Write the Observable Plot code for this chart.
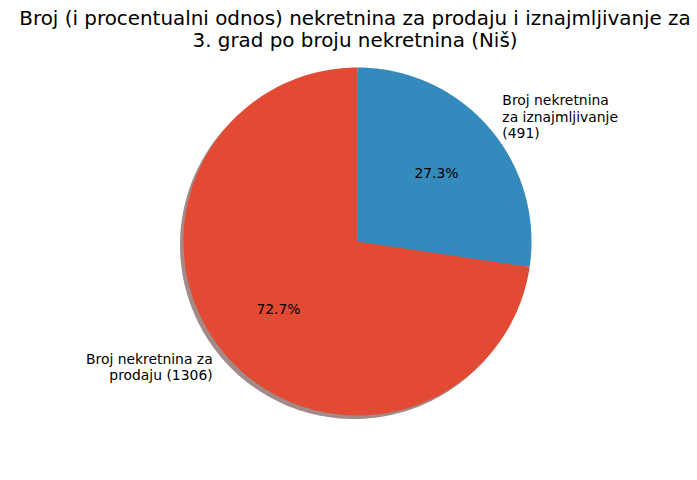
<!DOCTYPE html>
<html>
<head>
<meta charset="utf-8">
<script src="https://cdn.jsdelivr.net/npm/d3@7"></script>
<script src="https://cdn.jsdelivr.net/npm/@observablehq/plot@0.6"></script>
<style>
  html, body { margin: 0; padding: 0; background: #fff; }
  #wrap { position: relative; width: 697px; height: 480px; overflow: hidden; }
  #title {
    position: absolute; top: 8px; left: 355px; transform: translateX(-50%);
    white-space: pre; text-align: center;
    font-family: "DejaVu Sans", sans-serif; font-size: 19.9px; line-height: 22.3px; color: #000;
  }
  #chart { position: absolute; top: 60px; left: 0; }
</style>
</head>
<body>
<div id="wrap">
  <div id="title"></div>
  <div id="chart"></div>
</div>
<script>
const titleLines = ["Broj (i procentualni odnos) nekretnina za prodaju i iznajmljivanje za", "3. grad po broju nekretnina (Niš)"];
const categories = ["Broj nekretnina za prodaju", "Broj nekretnina za iznajmljivanje"];
const counts = [1306, 491];
const labels = ["Broj nekretnina za\nprodaju (1306)", "Broj nekretnina\nza iznajmljivanje\n(491)"];
const colors = ["#E24A33", "#348ABD"];

document.getElementById("title").textContent = titleLines.join("\n");

const total = d3.sum(counts);
const startAngle = 90;
const slices = [];
let cum = 0;
counts.forEach((c, i) => {
  const frac = c / total;
  const t1 = startAngle + 360 * cum;
  const t2 = t1 + 360 * frac;
  cum += frac;
  slices.push({i, frac, t1, t2, mid: (t1 + t2) / 2});
});

function wedgePoints(s, dx, dy) {
  const pts = [{x: dx, y: dy}];
  const n = 200;
  for (let k = 0; k <= n; k++) {
    const t = (s.t1 + (s.t2 - s.t1) * k / n) * Math.PI / 180;
    pts.push({x: Math.cos(t) + dx, y: Math.sin(t) + dy});
  }
  return pts;
}

function shadowColor(hex) {
  const c = d3.rgb(hex);
  return `rgba(${Math.round(c.r * 0.3)},${Math.round(c.g * 0.3)},${Math.round(c.b * 0.3)},0.5)`;
}

const marks = [];
slices.forEach(s => {
  marks.push(Plot.line(wedgePoints(s, -0.02, -0.02), {x: "x", y: "y", curve: "linear-closed", fill: shadowColor(colors[s.i]), stroke: "none"}));
});
slices.forEach(s => {
  marks.push(Plot.line(wedgePoints(s, 0, 0), {x: "x", y: "y", curve: "linear-closed", fill: colors[s.i], stroke: "none"}));
});

const rad = d => d * Math.PI / 180;
const labelData = slices.map(s => ({
  x: 1.1 * Math.cos(rad(s.mid)), y: 1.1 * Math.sin(rad(s.mid)),
  text: labels[s.i], anchor: Math.cos(rad(s.mid)) < 0 ? "end" : "start"
}));
const pctData = slices.map(s => ({
  x: 0.6 * Math.cos(rad(s.mid)), y: 0.6 * Math.sin(rad(s.mid)),
  text: (s.frac * 100).toFixed(1) + "%"
}));

["start", "end"].forEach(a => {
  marks.push(Plot.text(labelData.filter(d => d.anchor === a), {
    x: "x", y: "y", text: "text", textAnchor: a, lineAnchor: "middle", lineHeight: 1.2,
    fontSize: 13.9, fontFamily: "DejaVu Sans", fill: "#000"
  }));
});
marks.push(Plot.text(pctData, {
  x: "x", y: "y", text: "text", textAnchor: "middle", lineAnchor: "middle",
  fontSize: 13.9, fontFamily: "DejaVu Sans", fill: "#000"
}));

const R = 174, cx = 357, cy = 181;
const plot = Plot.plot({
  width: 697, height: 420,
  margin: 0,
  x: {domain: [-1, 1], range: [cx - R, cx + R], axis: null},
  y: {domain: [-1, 1], range: [cy + R, cy - R], axis: null},
  style: {background: "#fff", overflow: "visible"},
  marks
});
document.getElementById("chart").appendChild(plot);
</script>
</body>
</html>
